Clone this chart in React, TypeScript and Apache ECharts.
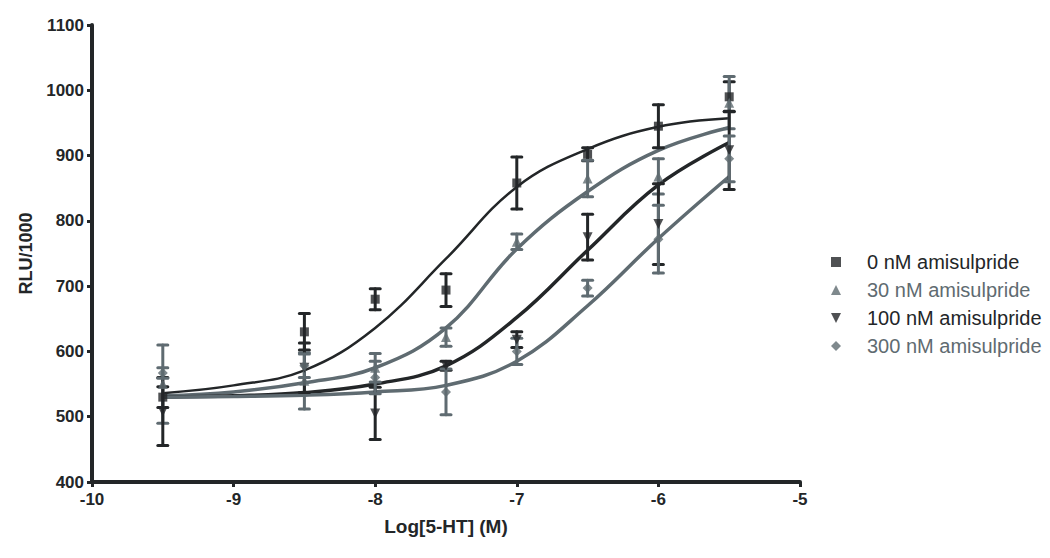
import React, { useEffect, useRef } from "react";
import * as echarts from "echarts";

const doses = [-9.5, -8.5, -8, -7.5, -7, -6.5, -6, -5.5];
const groupNames = ["0 nM amisulpride", "30 nM amisulpride", "100 nM amisulpride", "300 nM amisulpride"];

const mean0 = [530, 630, 680, 694, 858, 902, 945, 990];
const err0 = [16, 28, 16, 25, 40, 10, 33, 23];
const mean30 = [550, 555, 575, 622, 768, 865, 868, 981];
const err30 = [60, 43, 22, 14, 12, 28, 27, 40];
const mean100 = [508, 575, 505, 578, 618, 775, 795, 908];
const err100 = [52, 38, 40, 7, 12, 35, 62, 60];
const mean300 = [567, 578, 560, 538, 600, 697, 772, 895];
const err300 = [8, 18, 25, 35, 20, 12, 52, 35];

// fitted curves
const curveX = [-9.5, -9, -8.5, -8, -7.5, -7, -6.5, -6, -5.5];
const curve0 = [536, 548, 571, 636, 742, 852, 910, 944, 957];
const curve30 = [532, 538, 552, 575, 636, 757, 845, 908, 943];
const curve100 = [530, 532, 537, 550, 578, 652, 755, 855, 920];
const curve300 = [530, 531, 533, 538, 548, 585, 670, 773, 868];

const xTicks = [-10, -9, -8, -7, -6, -5];
const yTicks = [400, 500, 600, 700, 800, 900, 1000, 1100];

const DARK = "#232628";
const GRAY = "#5f6b71";
const FONT = "Liberation Sans, Arial, sans-serif";
const DOWN_TRI = "path://M0,0 L10,0 L5,10 Z";

export default function App() {
  const ref = useRef<HTMLDivElement>(null);
  useEffect(() => {
    if (!ref.current) return;
    const chart = echarts.init(ref.current, null, { renderer: "svg" });
    const groups = [
      { name: groupNames[0], mean: mean0, err: err0, curve: curve0, color: DARK, symbol: "rect", size: 9, lw: 2.5 },
      { name: groupNames[1], mean: mean30, err: err30, curve: curve30, color: GRAY, symbol: "triangle", size: 10, lw: 3.5 },
      { name: groupNames[2], mean: mean100, err: err100, curve: curve100, color: DARK, symbol: DOWN_TRI, size: 10, lw: 3.5 },
      { name: groupNames[3], mean: mean300, err: err300, curve: curve300, color: GRAY, symbol: "diamond", size: 10, lw: 3.5 },
    ];
    const series: any[] = [];
    groups.forEach((g, gi) => {
      series.push({
        type: "line",
        name: "fit" + gi,
        data: curveX.map((x, i) => [x, g.curve[i]]),
        smooth: 0.4,
        showSymbol: false,
        symbol: "none",
        lineStyle: { color: g.color, width: g.lw },
        z: 2,
        silent: true,
      });
      series.push({
        type: "custom",
        name: "err" + gi,
        data: doses.map((x, i) => [x, g.mean[i] - g.err[i], g.mean[i] + g.err[i]]),
        encode: { x: 0, y: [1, 2] },
        z: 3,
        renderItem: (params: any, api: any) => {
          const x = api.value(0);
          const lo = api.coord([x, api.value(1)]);
          const hi = api.coord([x, api.value(2)]);
          const hw = 5;
          const style = { stroke: g.color, lineWidth: 3, lineCap: "round" };
          return {
            type: "group",
            children: [
              { type: "line", shape: { x1: lo[0], y1: lo[1], x2: hi[0], y2: hi[1] }, style },
              { type: "line", shape: { x1: lo[0] - hw, y1: lo[1], x2: lo[0] + hw, y2: lo[1] }, style },
              { type: "line", shape: { x1: hi[0] - hw, y1: hi[1], x2: hi[0] + hw, y2: hi[1] }, style },
            ],
          };
        },
      });
      series.push({
        type: "scatter",
        name: g.name,
        data: doses.map((x, i) => [x, g.mean[i]]),
        symbol: g.symbol,
        symbolSize: g.size,
        itemStyle: { color: g.color },
        z: 4,
      });
    });

    chart.setOption({
      animation: false,
      backgroundColor: "#ffffff",
      grid: { left: 84, right: 258, top: 17, bottom: 84 },
      legend: {
        orient: "vertical",
        left: 818,
        top: 239,
        itemGap: 8,
        itemWidth: 10,
        itemHeight: 10,
        textStyle: { fontSize: 20, fontFamily: FONT, padding: [0, 0, 0, 21] },
        data: [
          { name: groupNames[0], icon: "rect", textStyle: { color: DARK } },
          { name: groupNames[1], icon: "triangle", textStyle: { color: GRAY } },
          { name: groupNames[2], icon: DOWN_TRI, textStyle: { color: DARK } },
          { name: groupNames[3], icon: "diamond", textStyle: { color: GRAY } },
        ],
      },
      xAxis: {
        type: "value",
        min: xTicks[0],
        max: xTicks[xTicks.length - 1],
        interval: 1,
        name: "Log[5-HT] (M)",
        nameLocation: "middle",
        nameGap: 35,
        nameTextStyle: { fontSize: 19, fontWeight: "bold", color: DARK, fontFamily: FONT },
        axisLine: { show: true, lineStyle: { color: DARK, width: 4 } },
        axisTick: { show: true, length: 5, lineStyle: { color: DARK, width: 3 } },
        axisLabel: { fontSize: 17, fontWeight: "bold", color: DARK, fontFamily: FONT, margin: 9 },
        splitLine: { show: false },
      },
      yAxis: {
        type: "value",
        min: yTicks[0],
        max: yTicks[yTicks.length - 1],
        interval: 100,
        name: "RLU/1000",
        nameLocation: "middle",
        nameRotate: 90,
        nameGap: 53,
        nameTextStyle: { fontSize: 18, fontWeight: "bold", color: DARK, fontFamily: FONT },
        axisLine: { show: true, lineStyle: { color: DARK, width: 4 } },
        axisTick: { show: true, length: 5, lineStyle: { color: DARK, width: 3 } },
        axisLabel: {
          fontSize: 17,
          fontWeight: "bold",
          color: DARK,
          fontFamily: FONT,
          margin: 8,
          formatter: (v: number) => String(v),
        },
        splitLine: { show: false },
      },
      series,
    });
    return () => chart.dispose();
  }, []);
  return <div ref={ref} style={{ width: 1050, height: 558 }} />;
}
